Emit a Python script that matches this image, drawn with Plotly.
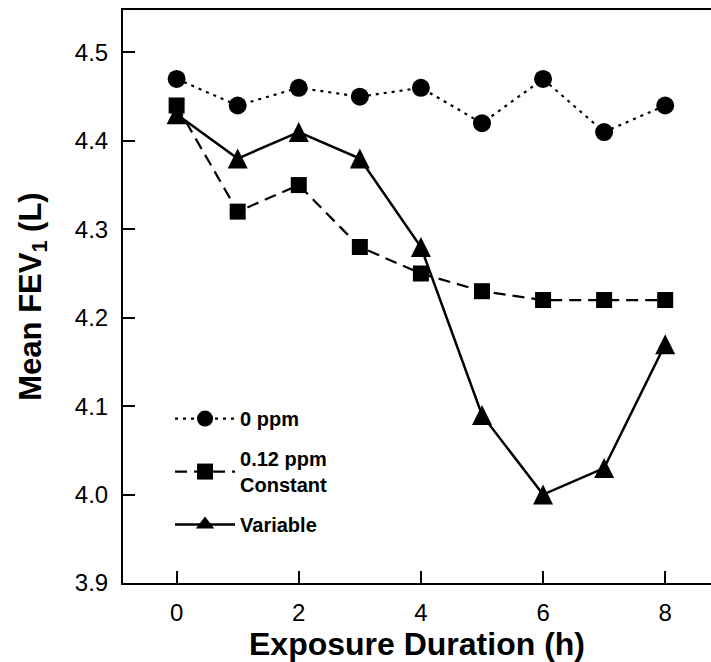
import plotly.graph_objects as go

# Mean FEV1 over the exposure period for each ozone condition
hours = [0, 1, 2, 3, 4, 5, 6, 7, 8]
fev_0ppm = [4.47, 4.44, 4.46, 4.45, 4.46, 4.42, 4.47, 4.41, 4.44]
fev_constant = [4.44, 4.32, 4.35, 4.28, 4.25, 4.23, 4.22, 4.22, 4.22]
fev_variable = [4.43, 4.38, 4.41, 4.38, 4.28, 4.09, 4.00, 4.03, 4.17]

series_names = ["0 ppm", "0.12 ppm<br>Constant", "Variable"]
x_ticks = [0, 2, 4, 6, 8]
y_ticks = [3.9, 4.0, 4.1, 4.2, 4.3, 4.4, 4.5]

FONT = "Liberation Sans, Arial, sans-serif"

fig = go.Figure()

fig.add_trace(go.Scatter(
    x=hours, y=fev_0ppm, name=series_names[0], mode="lines+markers",
    legendgroup="a",
    line=dict(color="black", width=2.2, dash="3px,5px"),
    marker=dict(symbol="circle", size=18, color="black"),
))
fig.add_trace(go.Scatter(
    x=hours, y=fev_constant, name=series_names[1], mode="lines+markers",
    legendgroup="b",
    line=dict(color="black", width=2.2, dash="12px,7px"),
    marker=dict(symbol="square", size=16, color="black"),
))
# upward triangle centred on the point: a down-arrow rotated half a turn,
# pushed out by half its height
fig.add_trace(go.Scatter(
    x=hours, y=fev_variable, name=series_names[2], mode="lines+markers",
    legendgroup="c", showlegend=False,
    line=dict(color="black", width=2.5),
    marker=dict(symbol="arrow-down", size=20, angle=180, standoff=10,
                color="black"),
))
# legend key for the "Variable" series (plain triangle, no data)
fig.add_trace(go.Scatter(
    x=[None], y=[None], name=series_names[2], mode="lines+markers",
    legendgroup="c",
    line=dict(color="black", width=2.5),
    marker=dict(symbol="triangle-up", size=18, color="black"),
))

fig.update_layout(
    width=711, height=662,
    margin=dict(l=123, r=0, t=10, b=79),
    paper_bgcolor="white", plot_bgcolor="white",
    font=dict(family=FONT, color="black"),
    showlegend=True,
    legend=dict(
        x=0.080, y=0.321, xanchor="left", yanchor="top",
        bgcolor="rgba(0,0,0,0)", borderwidth=0,
        font=dict(family=FONT, size=20, color="black", weight="bold"),
        tracegroupgap=11, itemwidth=60,
    ),
)

fig.update_xaxes(
    range=[-0.878, 8.75],
    tickvals=x_ticks, ticktext=[str(v) for v in x_ticks],
    ticks="inside", ticklen=12, tickwidth=2, tickcolor="black",
    showline=True, linewidth=2, linecolor="black", mirror=True,
    showgrid=False, zeroline=False,
    tickfont=dict(family=FONT, size=24, color="black"),
    ticklabelstandoff=7,
    title=dict(text="Exposure Duration (h)", standoff=13,
               font=dict(family=FONT, size=32, color="black", weight="bold")),
)
fig.update_yaxes(
    range=[3.9, 4.548],
    tickvals=y_ticks, ticktext=[f"{v:.1f}" for v in y_ticks],
    ticks="inside", ticklen=12, tickwidth=2, tickcolor="black",
    showline=True, linewidth=2, linecolor="black", mirror=False,
    showgrid=False, zeroline=False,
    tickfont=dict(family=FONT, size=24, color="black"),
    ticklabelstandoff=8,
    title=dict(text="Mean FEV<sub>1</sub> (L)", standoff=24,
               font=dict(family=FONT, size=31, color="black", weight="bold")),
)

fig.write_html("out.html")
